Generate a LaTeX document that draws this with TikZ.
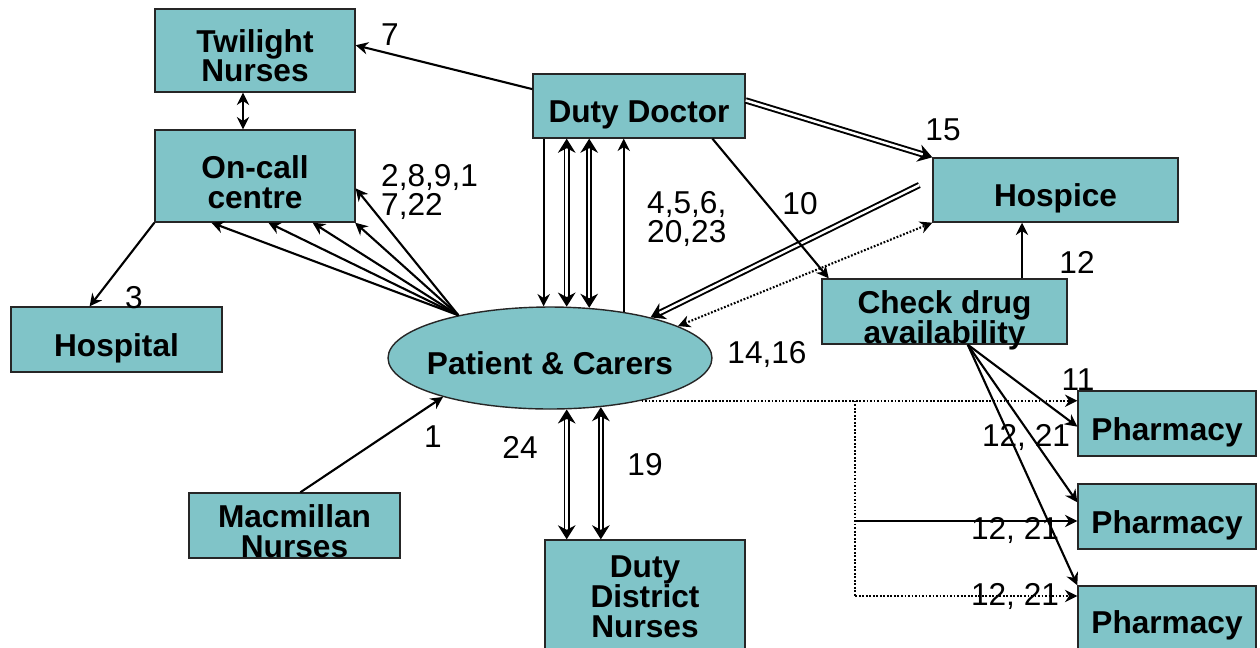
\documentclass[tikz,border=0pt]{standalone}
\usepackage{fontspec}
\setmainfont{Liberation Sans}
\usetikzlibrary{shapes.geometric,% ellipse for the patient node
arrows.meta}
\definecolor{boxteal}{RGB}{128,196,200}
\tikzset{every node/.style={font=\fontsize{18}{17}\selectfont}}
\tikzset{smalltip/.tip={Stealth[length=7pt,width=7pt]},
bigtip/.tip={Stealth[length=8pt,width=10pt]},
box/.style={draw=black!85,fill=boxteal,line width=0.8pt,inner sep=0pt,
  inner ysep=-4pt,align=center,font=\fontsize{18}{17}\selectfont\bfseries},
link/.style={line width=1.2pt,-smalltip},
dbl/.style={double,double distance=1.4pt,line width=1.1pt},
dots/.style={line width=1.2pt,dash pattern=on 1pt off 1pt}}
% strut that pushes a label down in its box
\newcommand{\lowstrut}[1][23pt]{\rule{0pt}{#1}}

\begin{document}
\begin{tikzpicture}[x=0.02cm,y=-0.02cm]
\useasboundingbox (0,0) rectangle (1260,647);
% boxes
\node[box,minimum width=4cm,minimum height=1.66cm] (tw) at (255,50.5) {\lowstrut[19pt]Twilight\\Nurses};
\node[box,minimum width=4cm,minimum height=1.84cm] (oc) at (255,176) {\lowstrut[20pt]On-call\\centre};
\node[box,minimum width=4.22cm,minimum height=1.3cm] (hosp) at (116.5,339.5) {\lowstrut Hospital};
\node[box,minimum width=4.24cm,minimum height=1.28cm] (doc) at (639,106) {\lowstrut Duty Doctor};
\node[box,minimum width=4.9cm,minimum height=1.28cm] (hsp) at (1055.5,190) {\lowstrut Hospice};
\node[box,minimum width=4.9cm,minimum height=1.3cm] (chk) at (944.5,311.5) {\lowstrut Check drug\\availability};
\node[box,ellipse,inner xsep=-5pt,minimum width=6.48cm,minimum height=2.04cm] (pt) at (550,358) {\lowstrut[19pt]Patient \& Carers};
\node[box,minimum width=4.22cm,minimum height=1.3cm] (mac) at (294.5,525.5) {\lowstrut[20pt]Macmillan\\Nurses};
\node[box,minimum width=4cm,minimum height=2.28cm] (ddn) at (645,597) {Duty\\District\\Nurses};
\node[box,minimum width=3.56cm,minimum height=1.3cm] (ph1) at (1167,423.5) {\lowstrut Pharmacy};
\node[box,minimum width=3.56cm,minimum height=1.3cm] (ph2) at (1167,516.5) {\lowstrut Pharmacy};
\node[box,minimum width=3.56cm,minimum height=1.56cm] (ph3) at (1167,625) {Pharmacy};
% connectors
\draw[link] (doc.171) -- (tw.3);
\draw[link,smalltip-smalltip] ([xshift=-0.24cm]tw.south) -- ([xshift=-0.24cm]oc.north);
\foreach \a in {-133,-74,-39,-25,-7} \draw[link] (pt.155) -- (oc.\a);
\draw[link] (oc.south west) -- (hosp.129);
\draw[link] (pt.97 |- doc.south) -- (pt.97);
\draw[dbl,bigtip-bigtip] (pt.72 |- doc.south) -- (pt.72);
\draw[dbl,bigtip-bigtip] (pt.52 |- doc.south) -- (pt.52);
\draw[link] (pt.32) -- (pt.32 |- doc.south);
\draw[dbl,-bigtip] (doc.3) -- (hsp.north west);
\draw[dbl,-bigtip] ([xshift=-0.26cm,yshift=0.1cm]hsp.west) -- (pt.22);
\draw[link] (doc.-24) -- (chk.164);
\draw[dots,smalltip-smalltip] (pt.14) -- (hsp.south west);
\coordinate (up12) at ([xshift=-0.67cm]hsp.south);
\draw[link] (up12 |- chk.north) -- (up12);
\draw[link] (chk.-55) -- (ph1.182);
\draw[link] (chk.-55) -- (ph2.171);
\draw[link] (chk.-55) -- (ph3.north west);
\coordinate (fork) at ([xshift=0.68cm]chk.west |- pt.-25);
\coordinate (p2in) at ([yshift=-0.09cm]ph2.west);
\coordinate (p3in) at ([yshift=0.58cm]ph3.west);
\draw[dots,-smalltip] (pt.-25) -- (pt.-25 -| ph1.west);
\draw[dots] (fork) -- (fork |- p3in);
\draw[dots,-smalltip] (fork |- p3in) -- (p3in);
\draw[link] (fork |- p2in) -- (p2in);
\draw[link] (mac.80) -- (pt.200);
\draw[dbl,bigtip-bigtip] (pt.-72) -- (pt.-72 |- ddn.north);
\draw[dbl,bigtip-bigtip] (pt.-44) -- (pt.-44 |- ddn.north);
% numbers
\node (n7) at (390,35) {7};
\node[anchor=west,align=left] (n2) at (375,192) {2,8,9,1\\7,22};
\node (n3) at (134,298) {3};
\node[anchor=west,align=left] (n4) at (641,219) {4,5,6,\\20,23};
\node (n10) at (800,204) {10};
\node (n15) at (943,130) {15};
\node (n12) at (1077,262) {12};
\node (n14) at (767,354) {14,16};
\node (n11) at (1078,380) {11};
\node (n12a) at (1026,437) {12, 21};
\node (n12b) at (1015,530) {12, 21};
\node (n12c) at (1015,596) {12, 21};
\node (n1) at (433,437) {1};
\node (n24) at (520,447) {24};
\node (n19) at (645,465) {19};
\end{tikzpicture}
\end{document}
